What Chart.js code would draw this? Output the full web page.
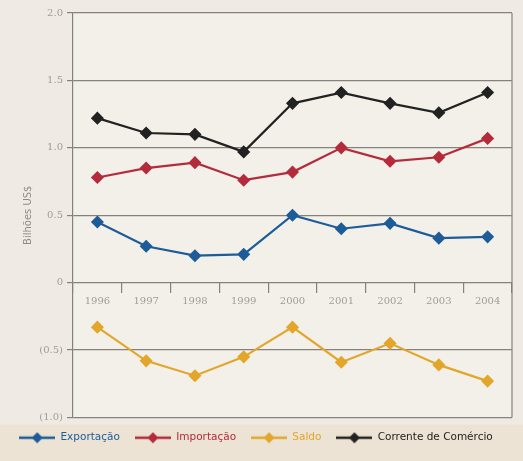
<!DOCTYPE html>
<html>
<head>
<meta charset="utf-8">
<script src="https://cdn.jsdelivr.net/npm/chart.js@4"></script>
<style>
  html, body { margin: 0; padding: 0; background: #efebe4; }
  #chart { display: block; }
</style>
</head>
<body>
<canvas id="chart" width="523" height="461"></canvas>
<script>
// values in billions of US$
const years = ['1996', '1997', '1998', '1999', '2000', '2001', '2002', '2003', '2004'];
const exportacao = [0.45, 0.27, 0.20, 0.21, 0.50, 0.40, 0.44, 0.33, 0.34];
const importacao = [0.78, 0.85, 0.89, 0.76, 0.82, 1.00, 0.90, 0.93, 1.07];
const saldo = [-0.33, -0.58, -0.69, -0.55, -0.33, -0.59, -0.45, -0.61, -0.73];
const corrente = [1.22, 1.11, 1.10, 0.97, 1.33, 1.41, 1.33, 1.26, 1.41];

const seriesNames = ['Exportação', 'Importação', 'Saldo', 'Corrente de Comércio'];
const seriesColors = ['#1d5c98', '#b42b3c', '#e2a72a', '#222222'];

const yTicks = [-1, -0.5, 0, 0.5, 1, 1.5, 2];
const yTickLabels = ['(1.0)', '(0.5)', '0', '0.5', '1.0', '1.5', '2.0'];

const gridColor = '#85827d';
const tickColor = '#a09c97';

// line + diamond swatch for the legend
function legendIcon(color) {
  const c = document.createElement('canvas');
  c.width = 36;
  c.height = 12;
  const g = c.getContext('2d');
  g.strokeStyle = color;
  g.lineWidth = 2.5;
  g.beginPath();
  g.moveTo(0, 6);
  g.lineTo(36, 6);
  g.stroke();
  g.fillStyle = color;
  g.beginPath();
  g.moveTo(18, 0.5);
  g.lineTo(23.5, 6);
  g.lineTo(18, 11.5);
  g.lineTo(12.5, 6);
  g.closePath();
  g.fill();
  return c;
}

const backdrop = {
  id: 'backdrop',
  beforeDraw(chart) {
    const { ctx, width, height, chartArea: a } = chart;
    ctx.save();
    ctx.fillStyle = '#efebe4';
    ctx.fillRect(0, 0, width, height);
    ctx.fillStyle = '#f3f0ea';
    ctx.fillRect(a.left, a.top, a.right - a.left, a.bottom - a.top);
    const stripTop = a.bottom + 7;
    ctx.fillStyle = '#ece3d4';
    ctx.fillRect(0, stripTop, width, height - stripTop);
    ctx.restore();
  },
  beforeDatasetsDraw(chart) {
    const { ctx, chartArea: a } = chart;
    ctx.save();
    ctx.strokeStyle = gridColor;
    ctx.lineWidth = 1.2;
    ctx.beginPath();
    ctx.moveTo(a.right, a.top);
    ctx.lineTo(a.right, a.bottom);
    ctx.stroke();
    ctx.restore();
  }
};

const allSeries = [exportacao, importacao, saldo, corrente];

new Chart(document.getElementById('chart'), {
  type: 'line',
  data: {
    labels: years,
    datasets: allSeries.map((vals, i) => ({
      label: seriesNames[i],
      data: vals,
      borderColor: seriesColors[i],
      backgroundColor: seriesColors[i],
      borderWidth: 2.2,
      pointStyle: 'rectRot',
      pointRadius: 5,
      tension: 0
    }))
  },
  options: {
    responsive: false,
    animation: false,
    layout: { padding: { top: 13, right: 11, bottom: 8, left: 0 } },
    plugins: {
      tooltip: { enabled: false },
      legend: {
        position: 'bottom',
        labels: {
          usePointStyle: true,
          pointStyleWidth: 36,
          boxHeight: 12,
          padding: 15,
          font: { family: 'DejaVu Sans', size: 10.5 },
          generateLabels: (chart) => chart.data.datasets.map((ds, i) => ({
            text: ds.label,
            fillStyle: seriesColors[i],
            strokeStyle: seriesColors[i],
            fontColor: seriesColors[i],
            lineWidth: 0,
            pointStyle: legendIcon(seriesColors[i]),
            hidden: false,
            datasetIndex: i
          }))
        }
      }
    },
    scales: {
      x: {
        type: 'category',
        offset: true,
        position: { y: 0 },
        grid: {
          offset: true,
          drawOnChartArea: false,
          drawTicks: true,
          tickLength: 10,
          color: gridColor,
          lineWidth: 1.2
        },
        border: { display: false },
        ticks: {
          color: tickColor,
          font: { family: 'DejaVu Serif', size: 10 },
          padding: 3,
          maxRotation: 0,
          autoSkip: false
        }
      },
      y: {
        min: -1,
        max: 2,
        afterBuildTicks: (s) => { s.ticks = yTicks.map(v => ({ value: v })); },
        afterFit: (s) => { s.width = 73; },
        ticks: {
          callback: (v) => yTickLabels[yTicks.indexOf(v)],
          color: tickColor,
          font: { family: 'DejaVu Serif', size: 10 },
          padding: 4
        },
        grid: { color: gridColor, lineWidth: 1.2, tickLength: 6 },
        border: { color: gridColor, width: 1.2 },
        title: {
          display: true,
          text: 'Bilhões US$',
          color: '#8f8b86',
          font: { family: 'DejaVu Sans', size: 10 },
          padding: { top: 22, bottom: 0 }
        }
      }
    }
  },
  plugins: [backdrop]
});
</script>
</body>
</html>
